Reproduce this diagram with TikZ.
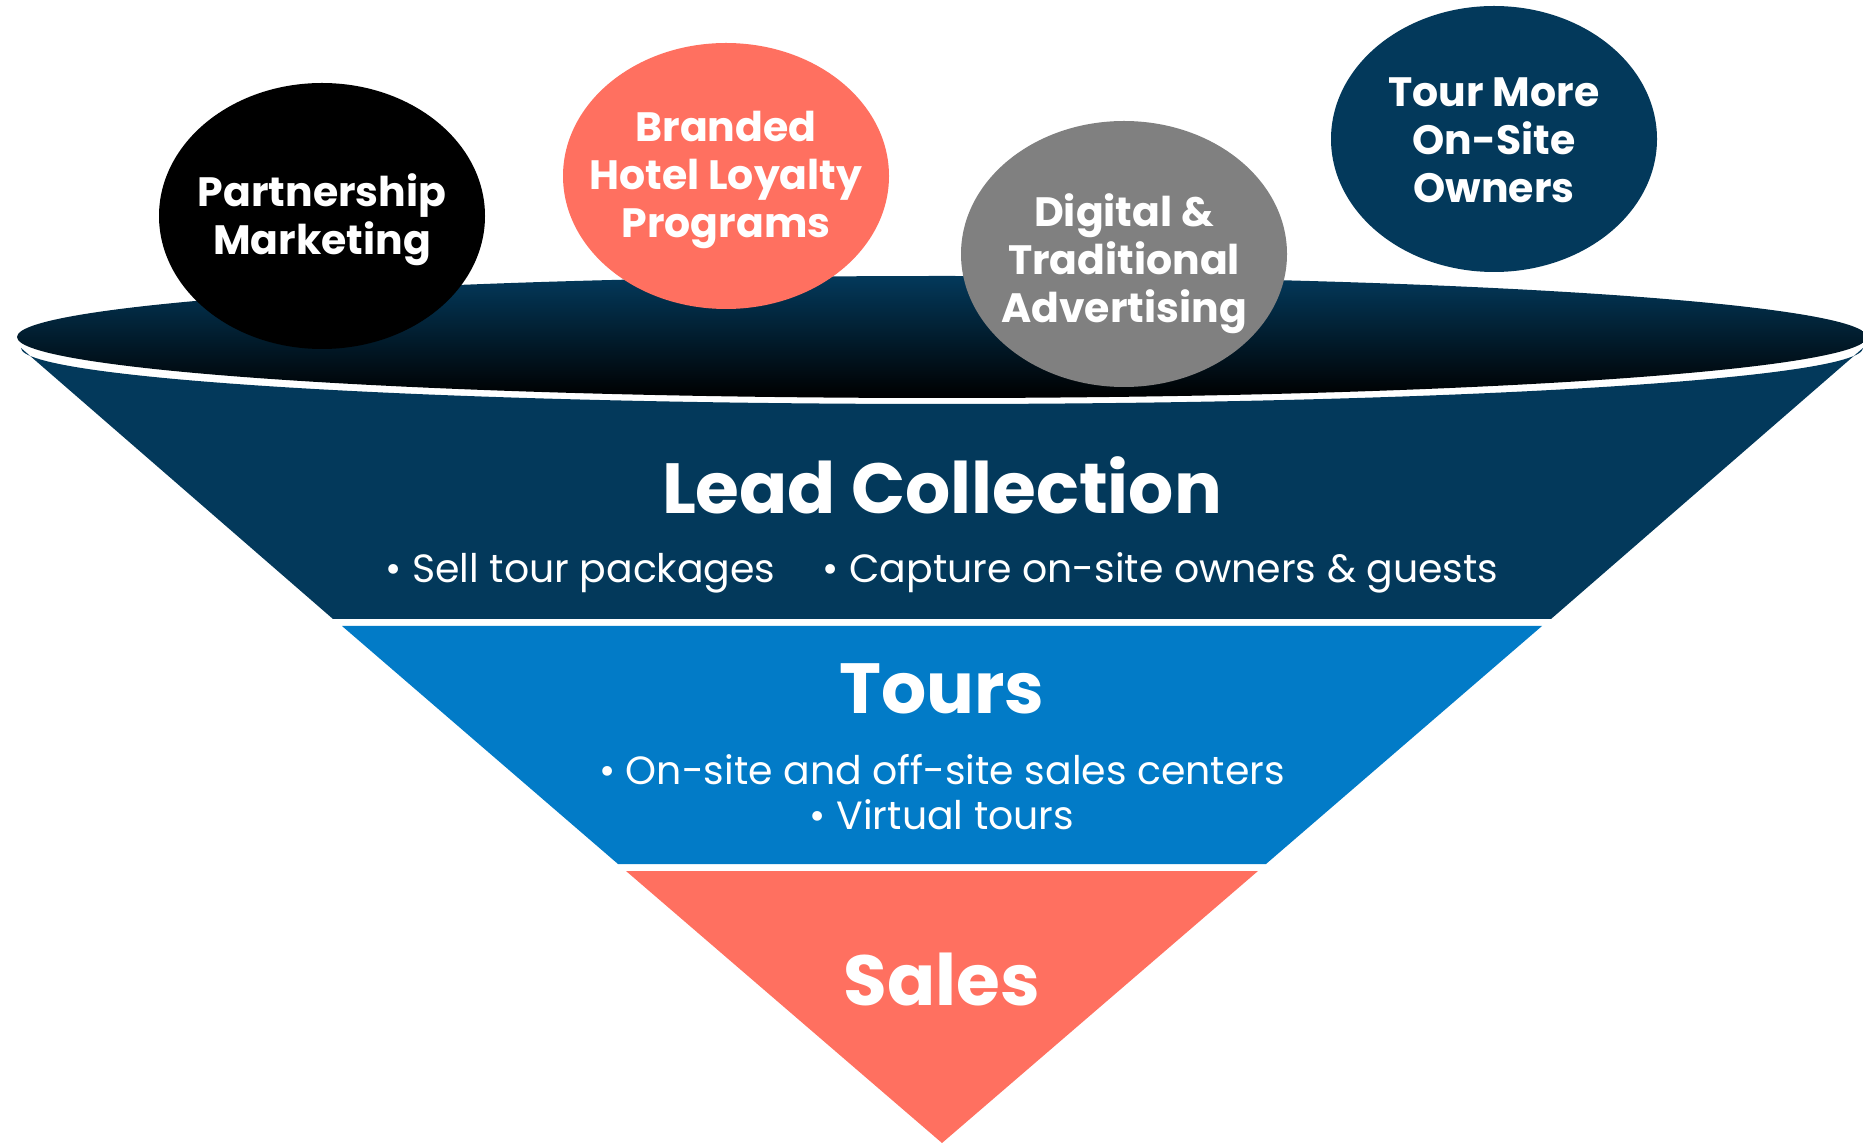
\documentclass[tikz,border=0pt]{standalone}
\usepackage{fontspec}
\setmainfont{Poppins}
\usetikzlibrary{shapes.geometric}
\definecolor{navy}{RGB}{3,57,91}
\definecolor{ocean}{RGB}{2,123,199}
\definecolor{coral}{RGB}{255,112,96}
\definecolor{slate}{RGB}{128,128,128}
\begin{document}
\begin{tikzpicture}[x=0.5pt,y=-0.5pt,
    bubble/.style={ellipse,minimum width=163pt,minimum height=133pt,inner sep=0pt},
    bubbletext/.style={align=center,text=white,font=\bfseries\fontsize{20.5}{24}\selectfont},
    stage/.style={text=white,font=\bfseries\fontsize{35.5}{40}\selectfont},
    point/.style={text=white,align=center,font=\fontsize{19.7}{22.5}\selectfont}]
    \useasboundingbox (0,0) rectangle (1863,1143);
    % funnel, cut into three stages by thin white bands
    \fill[navy] (21,348) -- (333,619) -- (1551,619) -- (1863,348)
        arc[start angle=0,end angle=180,x radius=921,y radius=56] -- cycle;
    \fill[ocean] (342,626) -- (618,864) -- (1266,864) -- (1542,626) -- cycle;
    \fill[coral] (626,871) -- (942,1143) -- (1258,871) -- cycle;
    % rim of the funnel
    \shade[top color=navy,bottom color=black] (942,337) ellipse[x radius=925,y radius=61];
    % what goes in at the top
    \node[bubble,fill=black,label={[bubbletext,yshift=-1.8pt]center:Partnership\\Marketing}] (partner) at (322,216) {};
    \node[bubble,fill=coral,label={[bubbletext,yshift=-2pt]center:Branded\\Hotel Loyalty\\Programs}] (loyalty) at (726,176) {};
    \node[bubble,fill=slate,label={[bubbletext,yshift=-4.7pt]center:Digital \&\\Traditional\\Advertising}] (advert) at (1124,254) {};
    \node[bubble,fill=navy,label={[bubbletext,yshift=-0.6pt]center:Tour More\\On-Site\\Owners}] (owners) at (1494,139) {};
    % stages
    \node[stage] (lead) at (942,485) {Lead Collection};
    \node[point] (leadpts) at (942,573) {• Sell tour packages\hspace{1.2em}• Capture on-site owners \& guests};
    \node[stage] (tours) at (942,689) {Tours};
    \node[point] (tourpts) at (942,792) {• On-site and off-site sales centers\\• Virtual tours};
    \node[stage] (sales) at (942,980) {Sales};
\end{tikzpicture}
\end{document}
